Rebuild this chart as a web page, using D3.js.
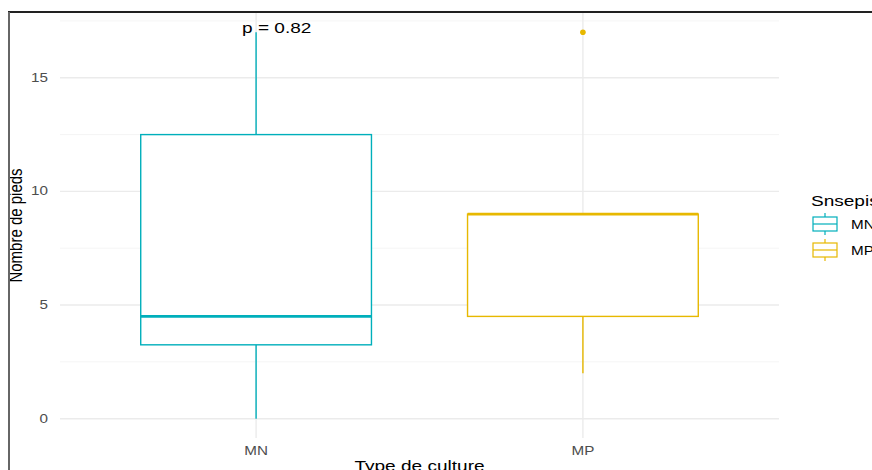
<!DOCTYPE html>
<html>
<head>
<meta charset="utf-8">
<script src="https://cdn.jsdelivr.net/npm/d3@7"></script>
<style>
  body { margin: 0; background: #fff; }
  text { font-family: "Liberation Sans", Arial, sans-serif; }
</style>
</head>
<body>
<div id="chart"></div>
<script>
// data
var categories = ["MN", "MP"];
var colors = ["#00AFBB", "#E7B800"];
var whiskLow = [0, 2];
var q1 = [3.25, 4.5];
var medians = [4.5, 9];
var q3 = [12.5, 9];
var whiskHigh = [17, 9];
var outliers = [[], [17]];
var yTicks = [0, 5, 10, 15];
var yMinor = [2.5, 7.5, 12.5, 17.5];
var pLabel = "p = 0.82";

var svgWidth = 872, svgHeight = 470;
var margin = { top: 13, bottom: 32, right: 93, left: 60 };
var width = svgWidth - margin.left - margin.right;
var height = svgHeight - margin.top - margin.bottom;
var stretch = 1.27; // text in the picture is drawn a bit wide

var svg = d3.select("#chart").append("svg")
  .attr("width", svgWidth)
  .attr("height", svgHeight);

var g = svg.append("g")
  .attr("transform", `translate(${margin.left}, ${margin.top})`);

var x = d3.scalePoint().domain(categories).range([0, width]).padding(0.6);
var y = d3.scaleLinear().domain([-0.85, 17.85]).range([height, 0]);
var boxW = x.step() * 0.706;

function wideText(sel, px, py, size, rot) {
  return sel.append("text")
    .attr("transform", `translate(${px}, ${py}) scale(${stretch}, 1)` + (rot ? " rotate(-90)" : ""))
    .style("font-size", size + "px");
}

// grid
g.selectAll(".minor").data(yMinor).enter().append("line")
  .attr("x1", 0).attr("x2", width)
  .attr("y1", d => y(d)).attr("y2", d => y(d))
  .attr("stroke", "#F2F2F2").attr("stroke-width", 0.8);
g.selectAll(".major").data(yTicks).enter().append("line")
  .attr("x1", 0).attr("x2", width)
  .attr("y1", d => y(d)).attr("y2", d => y(d))
  .attr("stroke", "#EBEBEB").attr("stroke-width", 1.4);
g.selectAll(".vgrid").data(categories).enter().append("line")
  .attr("x1", d => x(d)).attr("x2", d => x(d))
  .attr("y1", 0).attr("y2", height)
  .attr("stroke", "#EBEBEB").attr("stroke-width", 1.4);

// y tick labels
yTicks.forEach(function(t) {
  wideText(g, -12, y(t) + 4, 12).attr("text-anchor", "end").attr("fill", "#4D4D4D").text(t);
});
// x tick labels
categories.forEach(function(c) {
  wideText(g, x(c), height + 17, 12).attr("text-anchor", "middle").attr("fill", "#4D4D4D").text(c);
});

// boxes
categories.forEach(function(c, i) {
  var cx = x(c), col = colors[i];
  var bg = g.append("g");
  bg.append("line").attr("x1", cx).attr("x2", cx)
    .attr("y1", y(q3[i])).attr("y2", y(whiskHigh[i]))
    .attr("stroke", col).attr("stroke-width", 1.4);
  bg.append("line").attr("x1", cx).attr("x2", cx)
    .attr("y1", y(q1[i])).attr("y2", y(whiskLow[i]))
    .attr("stroke", col).attr("stroke-width", 1.4);
  bg.append("rect")
    .attr("x", cx - boxW / 2).attr("width", boxW)
    .attr("y", y(q3[i])).attr("height", y(q1[i]) - y(q3[i]))
    .attr("fill", "#fff").attr("stroke", col).attr("stroke-width", 1.4);
  bg.append("line").attr("x1", cx - boxW / 2).attr("x2", cx + boxW / 2)
    .attr("y1", y(medians[i])).attr("y2", y(medians[i]))
    .attr("stroke", col).attr("stroke-width", 2.6);
  bg.selectAll("circle").data(outliers[i]).enter().append("circle")
    .attr("cx", cx).attr("cy", d => y(d)).attr("r", 2.8)
    .attr("fill", col);
});

// p value
wideText(g, x(categories[0]) - 14, y(17) + 1, 15).attr("fill", "#000").text(pLabel);

// axis titles
wideText(svg, 22, margin.top + height / 2, 15, true).attr("text-anchor", "middle").attr("fill", "#000").text("Nombre de pieds");
wideText(svg, margin.left + width / 2, 471, 15).attr("text-anchor", "middle").attr("fill", "#000").text("Type de culture");

// legend
var lg = svg.append("g").attr("transform", "translate(811, 0)");
wideText(lg, 0, 206, 15).attr("fill", "#000").text("Snsepis");
categories.forEach(function(c, i) {
  var top = 217 + i * 26, mid = top + 7;
  lg.append("line").attr("x1", 14).attr("x2", 14).attr("y1", top - 4).attr("y2", top + 18)
    .attr("stroke", colors[i]).attr("stroke-width", 1.2);
  lg.append("rect").attr("x", 2).attr("y", top).attr("width", 24).attr("height", 14)
    .attr("fill", "#fff").attr("stroke", colors[i]).attr("stroke-width", 1.2);
  lg.append("line").attr("x1", 2).attr("x2", 26).attr("y1", mid).attr("y2", mid)
    .attr("stroke", colors[i]).attr("stroke-width", 1.2);
  wideText(lg, 40, mid + 5, 12).attr("fill", "#000").text(c);
});

// screenshot frame
svg.append("line").attr("x1", 8).attr("x2", svgWidth).attr("y1", 12).attr("y2", 12)
  .attr("stroke", "#222").attr("stroke-width", 2);
svg.append("line").attr("x1", 9).attr("x2", 9).attr("y1", 12).attr("y2", svgHeight)
  .attr("stroke", "#666").attr("stroke-width", 2);
</script>
</body>
</html>
